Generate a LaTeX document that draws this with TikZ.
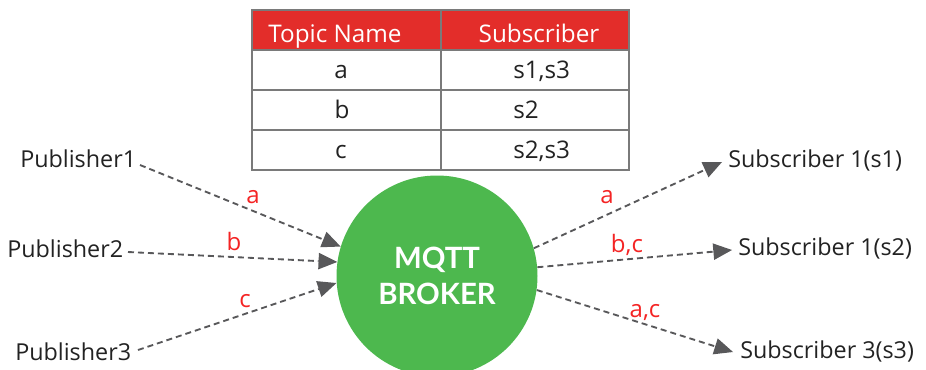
\documentclass[tikz,border=0pt]{standalone}
\usepackage{fontspec}
\setmainfont{Open Sans}
\newfontfamily\latofont{Lato}
\usetikzlibrary{arrows.meta}
\definecolor{hdrred}{HTML}{E32D2A}
\definecolor{lblred}{HTML}{F42424}
\definecolor{brokergreen}{HTML}{4DB84E}
\definecolor{arrgray}{HTML}{58585A}
\definecolor{gridgray}{HTML}{7A7A7A}
\definecolor{txt}{HTML}{222222}
\tikzset{
  lbl/.style={font=\fontsize{17.5}{20}\selectfont, text=txt, inner sep=0pt},
  cell/.style={font=\fontsize{18.2}{20}\selectfont, text=txt, inner sep=0pt},
  hcell/.style={font=\fontsize{18.2}{20}\selectfont, text=white, inner sep=0pt},
  tag/.style={font=\fontsize{18}{20}\selectfont, text=lblred, inner sep=0pt},
  flow/.style={draw=arrgray, line width=1.4pt, dash pattern=on 4.5pt off 3pt,
    -{Triangle[length=14pt,width=12.5pt,fill=arrgray,line width=0pt]}},
}
\begin{document}
\begin{tikzpicture}[x=0.75pt,y=-0.75pt]
\useasboundingbox (0,0) rectangle (926,369);
% table
\fill[hdrred] (252,10) rectangle (629,50);
\draw[gridgray, line width=0.9pt] (252,10) rectangle (629,170);
\draw[gridgray, line width=0.9pt] (252,50) -- (629,50) (252,90) -- (629,90) (252,130) -- (629,130) (441,10) -- (441,170);
\node[hcell, anchor=base] (h1) at (335,42) {Topic Name};
\node[hcell, anchor=base] (h2) at (539,42) {Subscriber};
\node[cell, anchor=base] (ta) at (341,78) {a};
\node[cell, anchor=base west] (sa) at (513,78) {s1,s3};
\node[cell, anchor=base] (tb) at (342,118) {b};
\node[cell, anchor=base west] (sb) at (513,118) {s2};
\node[cell, anchor=base] (tc) at (341,158) {c};
\node[cell, anchor=base west] (sc) at (513,158) {s2,s3};
% broker
\node[circle, fill=brokergreen, minimum size=201*0.75pt, inner sep=0pt,
  font=\latofont\bfseries\fontsize{22}{27}\selectfont, text=white, align=center] (broker) at (437,276) {MQTT\\BROKER};
% publishers
\node[lbl, anchor=base west] (p1) at (20,167) {Publisher1};
\node[lbl, anchor=base west] (p2) at (7,257) {Publisher2};
\node[lbl, anchor=base west] (p3) at (15,360) {Publisher3};
% subscribers
\node[lbl, anchor=base west] (s1) at (728,167) {Subscriber 1(s1)};
\node[lbl, anchor=base west] (s2) at (738,255) {Subscriber 1(s2)};
\node[lbl, anchor=base west] (s3) at (740,358) {Subscriber 3(s3)};
% connectors
\coordinate (p1o) at (140,165);
\coordinate (p2o) at (128,252);
\coordinate (p3o) at (138,350);
\draw[flow] (p1o) -- (broker.163);
\draw[flow] (p2o) -- (broker.172);
\draw[flow] (p3o) -- (broker.184);
\coordinate (s1i) at (722,162);
\coordinate (s2i) at (732,250);
\coordinate (s3i) at (733,352);
\draw[flow] (broker.16) -- (s1i);
\draw[flow] (broker.5) -- (s2i);
\draw[flow] (broker.-8) -- (s3i);
% labels
\node[tag, anchor=base] (la) at (253,203) {a};
\node[tag, anchor=base] (lb) at (234,250) {b};
\node[tag, anchor=base] (lc) at (245,307) {c};
\node[tag, anchor=base] (ra) at (607,203) {a};
\node[tag, anchor=base] (rbc) at (627,252) {b,c};
\node[tag, anchor=base] (rac) at (645,317) {a,c};
\end{tikzpicture}
\end{document}
